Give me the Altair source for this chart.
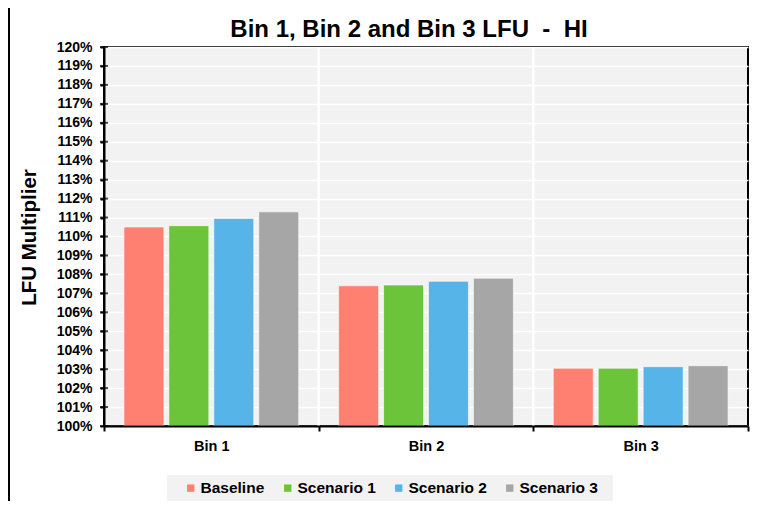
import altair as alt
import pandas as pd

# ---- data ----
categories = ["Bin 1", "Bin 2", "Bin 3"]
series = ["Baseline", "Scenario 1", "Scenario 2", "Scenario 3"]
baseline = [1.1050, 1.0740, 1.0305]
scenario_1 = [1.1057, 1.0744, 1.0305]
scenario_2 = [1.1095, 1.0764, 1.0313]
scenario_3 = [1.1130, 1.0780, 1.0318]
colors = ["#FF7F70", "#6CC43A", "#56B4E8", "#A6A6A6"]
y_ticks = [1.00, 1.01, 1.02, 1.03, 1.04, 1.05, 1.06, 1.07, 1.08, 1.09, 1.10,
           1.11, 1.12, 1.13, 1.14, 1.15, 1.16, 1.17, 1.18, 1.19, 1.20]
title_text = "Bin 1, Bin 2 and Bin 3 LFU \u00a0- \u00a0HI"

rows = []
for s, vals in zip(series, [baseline, scenario_1, scenario_2, scenario_3]):
    for c, v in zip(categories, vals):
        rows.append({"bin": c, "series": s, "value": v})
df = pd.DataFrame(rows)

FONT = "Liberation Sans"
W, H = 644, 379
PAD_L, PAD_T, PAD_R, PAD_B = 96, 39, 10, 75

x_scale = alt.Scale(domain=categories, paddingInner=0, paddingOuter=0)
y_scale = alt.Scale(domain=[1.0, 1.2], nice=False, zero=False)

x_axis = alt.Axis(title=None, grid=False, tickBand="extent",
                  domainColor="black", domainWidth=2,
                  tickColor="black", tickWidth=2, tickSize=5,
                  labelFont=FONT, labelFontSize=14.5, labelFontWeight="bold",
                  labelColor="black", labelAngle=0, labelBaseline="alphabetic",
                  labelPadding=19, zindex=1)
y_axis = alt.Axis(values=y_ticks, format=".0%", grid=True, gridColor="white",
                  gridWidth=1.5, domainColor="black", domainWidth=2,
                  tickColor="black", tickWidth=2, tickSize=4,
                  labelFont=FONT, labelFontSize=14, labelFontWeight="bold",
                  labelColor="black", labelPadding=8, labelOverlap=False,
                  labelBound=False, labelFlush=False,
                  title="LFU Multiplier", titleFont=FONT, titleFontSize=20.5,
                  titleFontWeight="bold", titleColor="black", titleAngle=270,
                  titleAlign="center", titleBaseline="alphabetic",
                  titleX=-69, titleY=190)

bars = alt.Chart(df).mark_bar(stroke="white", strokeWidth=1, strokeOpacity=0.6).encode(
    x=alt.X("bin:N", scale=x_scale, sort=categories, axis=x_axis),
    xOffset=alt.XOffset("series:N", sort=series,
                        scale=alt.Scale(domain=series, paddingInner=0.111, paddingOuter=0.444)),
    y=alt.Y("value:Q", scale=y_scale, axis=y_axis),
    y2=alt.datum(1.0),
    color=alt.Color("series:N", sort=series,
                    scale=alt.Scale(domain=series, range=colors),
                    legend=alt.Legend(title=None, orient="none", legendX=79, legendY=433,
                                      direction="horizontal", columns=4,
                                      symbolType="square", symbolSize=54,
                                      symbolStrokeWidth=0, labelFont=FONT,
                                      labelFontSize=15.5, labelFontWeight="bold",
                                      labelColor="black", columnPadding=15,
                                      labelOffset=2, padding=0)),
)

# white separators between the bins (category boundaries)
sep_df = pd.DataFrame({"bin": categories[1:]})
separators = alt.Chart(sep_df).mark_rule(color="white", strokeWidth=2.5).encode(
    x=alt.X("bin:N", scale=x_scale, sort=categories, bandPosition=0, axis=x_axis),
)

# y ticks crossing the axis
tick_df = pd.DataFrame({"v": y_ticks})
yticks = alt.Chart(tick_df).mark_tick(color="black", thickness=2, size=8).encode(
    y=alt.Y("v:Q", scale=y_scale, axis=y_axis),
    x=alt.value(0),
)

# legend background box
legend_box = alt.Chart(pd.DataFrame({"a": [0]})).mark_rect(color="#F2F2F2").encode(
    x=alt.value(63), x2=alt.value(509), y=alt.value(428), y2=alt.value(455),
)

# left outer border of the chart
border = alt.Chart(pd.DataFrame({"a": [0]})).mark_rule(color="black", strokeWidth=2).encode(
    x=alt.value(-95), y=alt.value(-PAD_T), y2=alt.value(H + PAD_B),
)

# chart title as a text mark
title = alt.Chart(pd.DataFrame({"t": [title_text]})).mark_text(
    font=FONT, fontSize=24, fontWeight="bold", color="black",
    align="center", baseline="alphabetic",
).encode(x=alt.value(W / 2 - 17), y=alt.value(-10.5), text="t:N")

chart = alt.layer(separators, legend_box, bars, yticks, border, title).properties(
    width=W, height=H,
    autosize=alt.AutoSizeParams(type="none"),
    padding={"left": PAD_L, "top": PAD_T, "right": PAD_R, "bottom": PAD_B},
    background="white",
).configure_view(
    fill="#F2F2F2", stroke="black", strokeWidth=2,
)

chart.save("out.html", embed_options={"renderer": "svg", "actions": False})
